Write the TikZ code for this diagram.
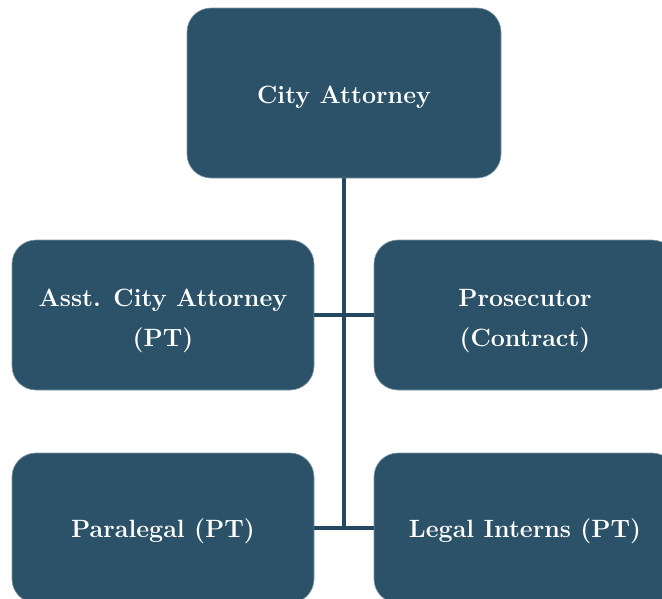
\documentclass[tikz,border=0pt]{standalone}
\usepackage{fontspec}
\usetikzlibrary{positioning}
\definecolor{boxblue}{HTML}{2B5269}
\definecolor{linkblue}{HTML}{244860}
\tikzset{
  orgbox/.style={fill=boxblue,draw=boxblue!60!white,line width=0.6pt,rounded corners=24pt,
    minimum width=302pt,minimum height=150pt,text=white,align=center,text height=26pt,
    font=\fontsize{25}{40}\selectfont\bfseries,inner sep=0pt},
  twoline/.style={text height=70pt},
  link/.style={draw=linkblue,line width=4.5pt}
}
\begin{document}
\begin{tikzpicture}[x=1pt,y=-1pt]
      \useasboundingbox (0,0) rectangle (662,598);
      \clip (0,0) rectangle (662,598);

      \node[orgbox,minimum width=314pt,minimum height=170pt] (ca) at (344,93) {City Attorney};

      \node[orgbox,twoline] (asst) at (163,315) {Asst. City Attorney\\(PT)};
      \node[orgbox,twoline] (pros) at (525,315) {Prosecutor\\(Contract)};

      \node[orgbox] (para) at (163,528) {Paralegal (PT)};
      \node[orgbox] (interns) at (525,528) {Legal Interns (PT)};

      \draw[link] (ca.south) -- (ca.south |- para.east);
      \draw[link,line width=4pt] (asst.east) -- (pros.west);
      \draw[link,line width=4pt] (para.east) -- (interns.west);
    \end{tikzpicture}
\end{document}
